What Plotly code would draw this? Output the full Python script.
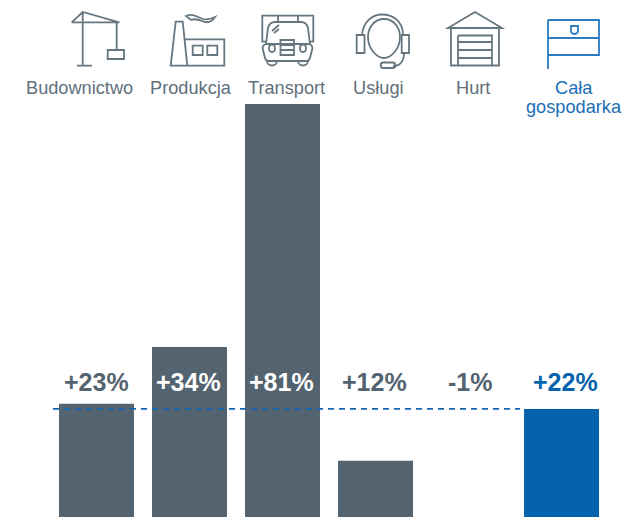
import re
import plotly.graph_objects as go

W, H = 623, 517
categories = ["Budownictwo", "Produkcja", "Transport", "Usługi", "Hurt", "Cała<br>gospodarka"]
values = [23, 34, 81, 12, -1, 22]
labels = ["+23%", "+34%", "+81%", "+12%", "-1%", "+22%"]
avg = 22
GREY = "#53636f"
BLUE = "#0563ad"
colors = [GREY, GREY, GREY, GREY, GREY, BLUE]
label_colors = [GREY, "#ffffff", "#ffffff", GREY, GREY, BLUE]
label_shift = [-0.5, -1.5, -1, -1, 1, 4]
cat_colors = ["#5f707c"] * 5 + ["#1a6fb5"]


def px_path(d):
    toks = re.findall(r"[A-Za-z]|-?\d+\.?\d*", d)
    out, isx = [], True
    for t in toks:
        if t.isalpha():
            out.append(t)
            isx = True
        else:
            v = float(t)
            out.append(f"{v / W:.5f}" if isx else f"{1 - v / H:.5f}")
            isx = not isx
    return " ".join(out)


ICON = "#66767f"
ICONS = {
    ICON: [
        # crane
        "M82.7 12 L82.7 65.7 M77 65.7 L92 65.7 M71.7 22.3 L119.3 22.3 L82.7 12 L71.7 22.3 M116.7 22.3 L116.7 50",
        "M107.7 50 L124 50 L124 59 L107.7 59 Z",
        # factory
        "M170.7 65.7 L175.7 21.7 L182.7 21.7 L187.3 65.7 Z M185 39.3 L224.3 39.3 L224.3 65.7 L170.7 65.7",
        "M192.7 45.7 L202.7 45.7 L202.7 55 L192.7 55 Z M207.3 45.7 L217.3 45.7 L217.3 55 L207.3 55 Z",
        "M186 16 C193 13 197 17 203 19 C207 20 211 19 215 17 C211 23 206 23 202 21 C197 19 193 19 191 20 Z",
        # truck
        "M266 41.7 L262.3 41.7 L262.3 15.7 L313.3 15.7 L313.3 41.7 L309.5 41.7",
        "M278 15.7 L278 22 M298 15.7 L298 22",
        "M266 44 L268 28 C269 24 271 22 275 22 L301 22 C305 22 307 24 308 28 L310 44",
        "M266 44 C263 45 262 47 263 50 L265 58 C265.5 60 267 61 269 61 L306 61 C308 61 309.5 60 310 58 L312 50 C313 47 312 45 309 44 Z",
        "M267 61 C267 67 277 67 277 61 M298 61 C298 67 308 67 308 61",
        "M280.5 40 L294 40 L294 55 L280.5 55 Z M280.5 45 L294 45 M280.5 50 L294 50",
        "M272 44.5 C276 44.5 276 52 272 52 C268 52 268 44.5 272 44.5 Z M303 44.5 C307 44.5 307 52 303 52 C299 52 299 44.5 303 44.5 Z",
        "M272 31 L279 25 M274 33 L279 29",
        # headset
        "M384 19 C374 19 368 28 368 37 C368 49 377 58 384 58 C391 58 400 49 400 37 C400 28 394 19 384 19 Z",
        "M356.7 35 L364.5 35 L364.5 53 L356.7 53 Z M401.7 35 L409 35 L409 53 L401.7 53 Z",
        "M362 35 C363 22 372 14.5 382 14.5 C394 14.5 403 22 403 35",
        "M404 53 C404 60 401 66 393 66",
        "M383 62.5 L393 62.5 C396 62.5 396 68 393 68 L383 68 C380 68 380 62.5 383 62.5 Z",
        # garage
        "M448 28 L475 12 L502 28 Z",
        "M451 28 L451 65.5 L499 65.5 L499 28",
        "M458 35.5 L492 35.5 L492 65.5 M458 65.5 L458 35.5 M458 42 L492 42 M458 50 L492 50 M458 58 L492 58",
    ],
    "#2b7cc0": [
        "M548 20 L599 20 L599 55 L548 55 M548 20 L548 69 M548 38 L599 38",
        "M571 26 L578 26 L578 31 C578 33 576 34 574.5 34 C573 34 571 33 571 31 Z",
    ],
}

fig = go.Figure(
    go.Bar(
        x=list(range(len(categories))),
        y=values,
        base=0,
        width=0.806,
        marker=dict(color=colors, line=dict(width=0)),
        hoverinfo="skip",
    )
)

# percentage labels sit on one fixed line above the average level
for i, (lab, col, sh) in enumerate(zip(labels, label_colors, label_shift)):
    fig.add_annotation(
        x=i, xref="x", xshift=sh, y=1 - 382 / H, yref="paper", text=f"<b>{lab}</b>",
        showarrow=False, font=dict(family="Liberation Sans", size=25, color=col),
        xanchor="center", yanchor="middle",
    )

cat_x = [79.5, 190.5, 286, 378.5, 472.5, 573.5]
for cx, cat, col in zip(cat_x, categories, cat_colors):
    for k, line in enumerate(cat.split("<br>")):
        fig.add_annotation(
            x=cx / W, xref="paper", y=1 - (88 + 19 * k) / H, yref="paper", text=line,
            showarrow=False, font=dict(family="Liberation Sans", size=18.2, color=col),
            xanchor="center", yanchor="middle",
        )

shapes = [
    dict(
        type="line", xref="x", yref="y", x0=-0.468, x1=4.554, y0=avg, y1=avg,
        line=dict(color="#1467ae", width=1.8, dash="6px 5px"), layer="above",
    )
]
for col, paths in ICONS.items():
    for p in paths:
        shapes.append(
            dict(type="path", xref="paper", yref="paper", path=px_path(p),
                 line=dict(color=col, width=1.8), layer="above")
        )

fig.update_layout(
    width=W, height=H, autosize=False,
    margin=dict(l=0, r=0, t=0, b=0),
    plot_bgcolor="white", paper_bgcolor="white",
    showlegend=False, shapes=shapes,
    xaxis=dict(range=[-1.0376, 5.661], visible=False, fixedrange=True),
    yaxis=dict(range=[1.1, 101.1], visible=False, fixedrange=True),
)
fig.write_html(
    "out.html",
    config=dict(displayModeBar=False),
    post_script="document.body.style.margin='0';document.documentElement.style.overflow='hidden';",
)
